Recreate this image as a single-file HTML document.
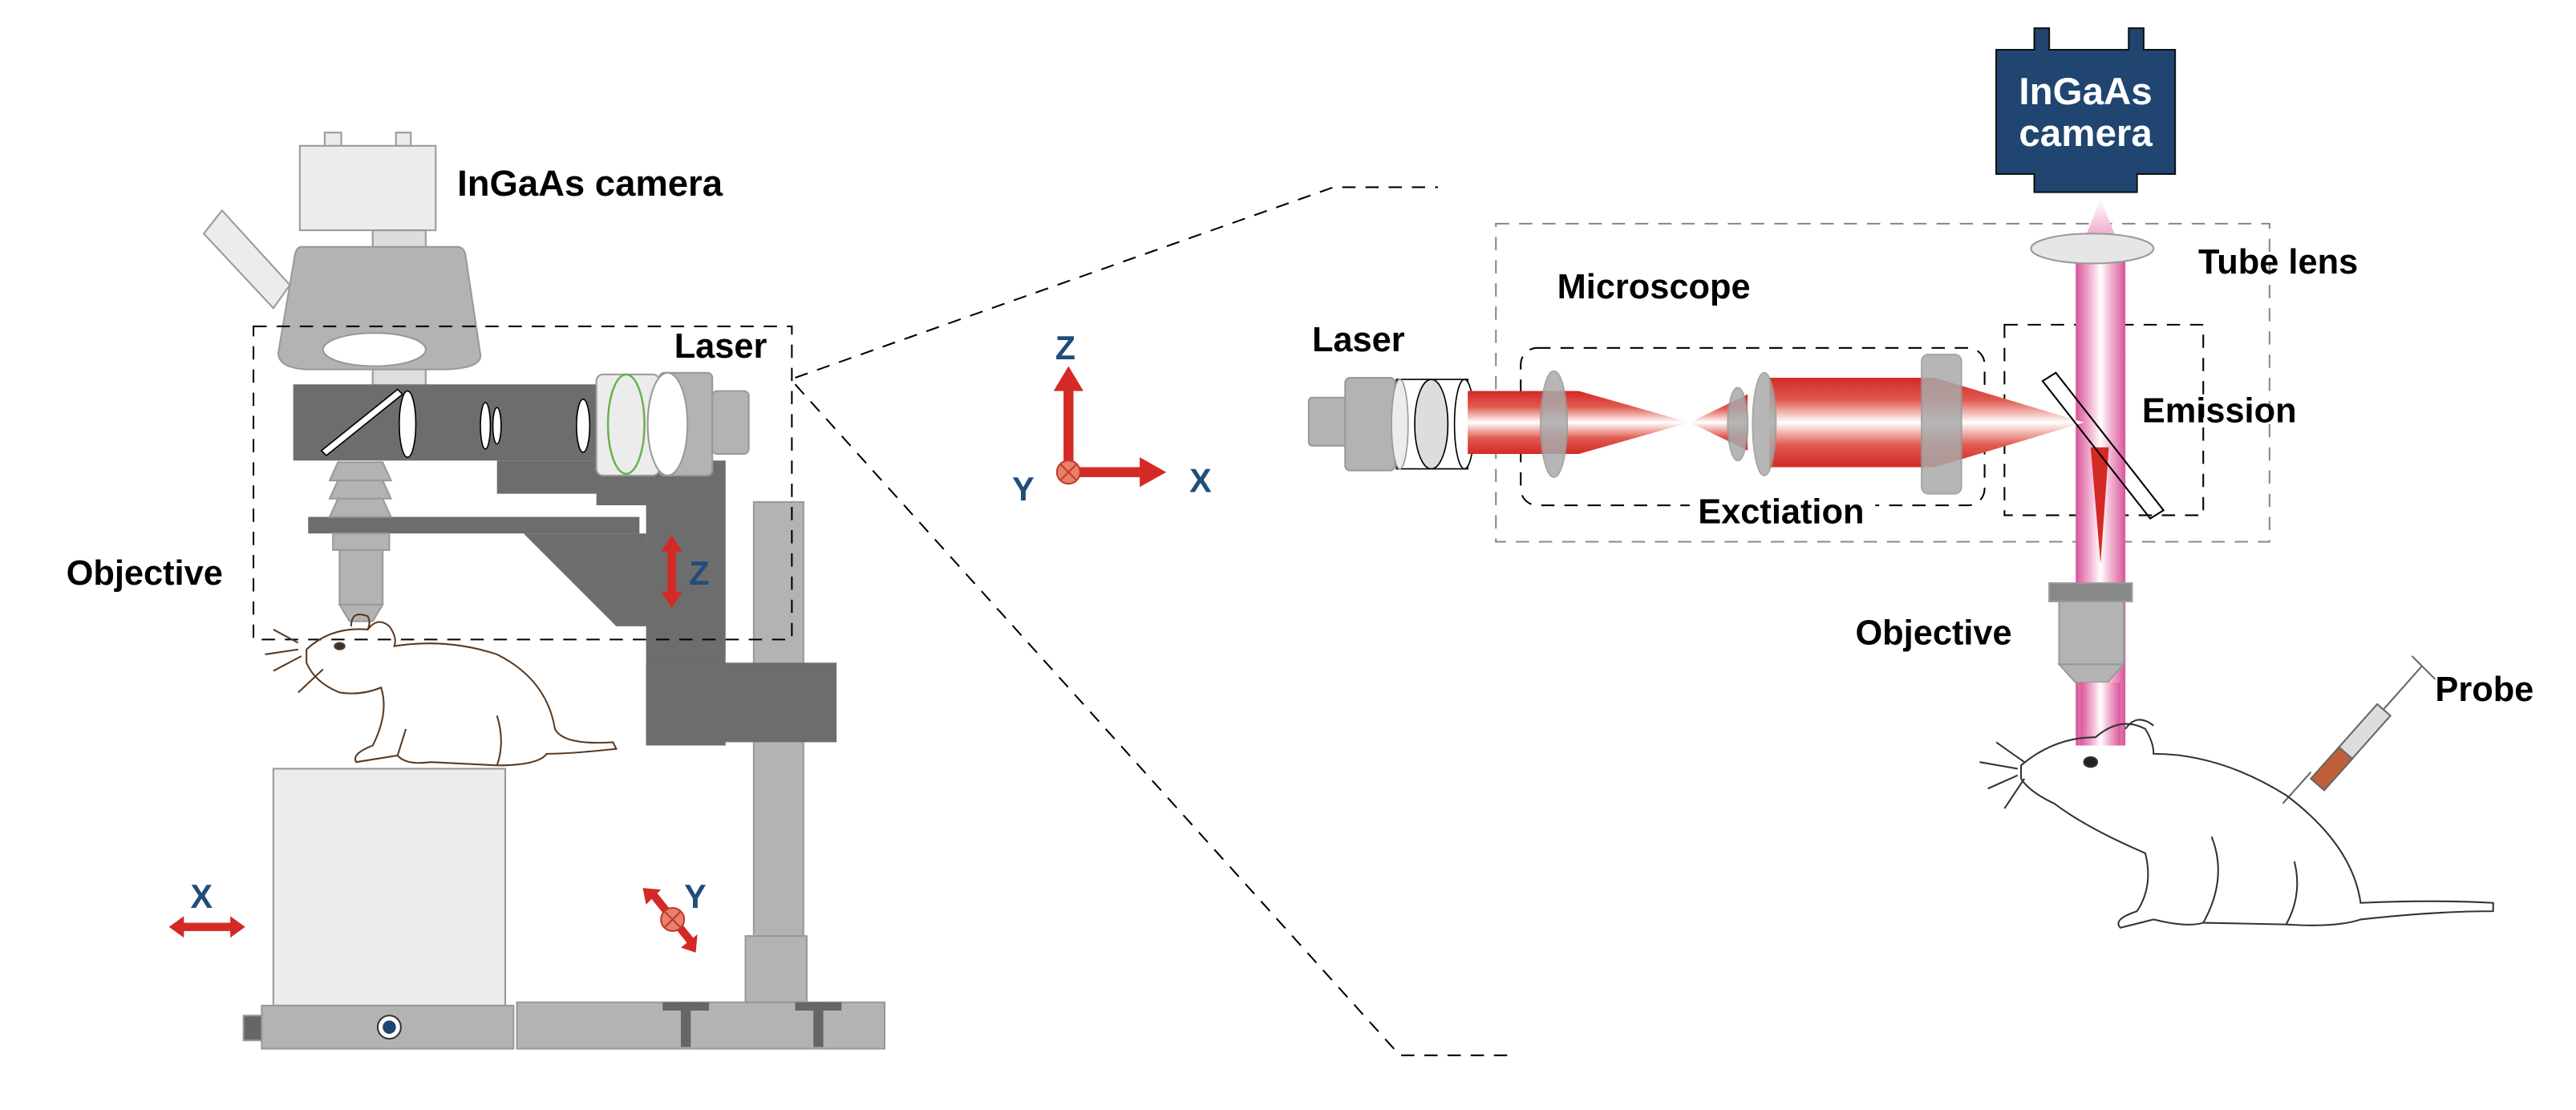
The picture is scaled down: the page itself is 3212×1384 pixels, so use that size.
<!DOCTYPE html>
<html><head><meta charset="utf-8"><style>
html,body{margin:0;padding:0;background:#fff;width:3212px;height:1384px;overflow:hidden}
svg{display:block}
text{font-family:"Liberation Sans Narrow","Liberation Sans",sans-serif;font-weight:bold}
</style></head><body>
<svg width="3212" height="1384" viewBox="0 0 1555 670" xmlns="http://www.w3.org/2000/svg">
<defs>
<linearGradient id="rv" x1="0" y1="0" x2="0" y2="1">
<stop offset="0" stop-color="#d32a25"/><stop offset="0.25" stop-color="#e05a50"/><stop offset="0.5" stop-color="#fff"/><stop offset="0.75" stop-color="#e05a50"/><stop offset="1" stop-color="#d32a25"/></linearGradient>
<linearGradient id="pk" x1="0" y1="0" x2="1" y2="0">
<stop offset="0" stop-color="#d9559a"/><stop offset="0.3" stop-color="#f2b5d3"/><stop offset="0.5" stop-color="#fff"/><stop offset="0.7" stop-color="#f2b5d3"/><stop offset="1" stop-color="#d9559a"/></linearGradient>
<linearGradient id="pkt" x1="0" y1="0" x2="0" y2="1"><stop offset="0" stop-color="#fff"/><stop offset="1" stop-color="#e98bbb"/></linearGradient>
</defs>

<!-- LEFT MICROSCOPE -->
<g stroke="#999" stroke-width="1">
<rect x="196" y="80" width="10" height="9" fill="#ececec"/>
<rect x="239" y="80" width="9" height="9" fill="#ececec"/>
<rect x="181" y="88" width="82" height="51" fill="#ececec"/>
<polygon points="123,141,134,127,175,172,165,186" fill="#ececec"/>
<rect x="225" y="139" width="32" height="12" fill="#ddd"/>
<path d="M182,149 L276,149 Q280,149 281,154 L290,214 Q291,222 270,223 L185,223 Q168,222 168,213 L178,154 Q179,149 182,149Z" fill="#b3b3b3"/>
<ellipse cx="226" cy="211" rx="31" ry="10" fill="#fff"/>
<rect x="225" y="223" width="32" height="10" fill="#ddd"/>
</g>
<!-- stand pillar (behind) -->
<g stroke="#999" fill="#b3b3b3">
<rect x="455" y="303" width="30" height="262"/>
<rect x="450" y="565" width="37" height="40"/>
</g>
<!-- dark frame -->
<g fill="#6d6d6d">
<rect x="177" y="232" width="250" height="46"/>
<polygon points="300,278 438,278 438,450 390,450 390,375 378,375 378,330 390,330 390,305 360,305 360,298 300,298"/>
<rect x="390" y="400" width="115" height="48"/>
<rect x="186" y="312" width="200" height="10"/>
<polygon points="316,322 390,322 390,378 372,378"/>
</g>
<g stroke="#999" fill="#b3b3b3">
<polygon points="204,279 231,279 236,290 199,290"/>
<polygon points="204,290 231,290 236,301 199,301"/>
<polygon points="204,301 231,301 236,312 199,312"/>
<rect x="201" y="322" width="34" height="10"/>
<rect x="205" y="332" width="26" height="33"/>
<polygon points="205,365 231,365 225,375 211,375"/>
</g>
<g stroke="#000" stroke-width="0.8" fill="#fff">
<polygon points="194,272 240,235 243,238 197,275"/>
<ellipse cx="246" cy="256" rx="5" ry="20"/>
<ellipse cx="293" cy="257" rx="3" ry="14"/>
<ellipse cx="300" cy="257" rx="2.5" ry="11"/>
<ellipse cx="352" cy="257" rx="4" ry="16"/>
</g>
<g stroke="#999">
<rect x="360" y="226" width="38" height="61" rx="4" fill="#ececec"/>
<ellipse cx="378" cy="256" rx="11" ry="30" fill="none" stroke="#6ab04c" stroke-width="1.2"/>
<rect x="398" y="225" width="32" height="62" rx="3" fill="#b3b3b3"/>
<ellipse cx="403" cy="256" rx="12" ry="31" fill="#fff"/>
<rect x="430" y="236" width="22" height="38" rx="3" fill="#b3b3b3"/>
</g>
<!-- base -->
<g stroke="#999" fill="#b3b3b3">
<rect x="312" y="605" width="222" height="28"/>
<rect x="165" y="464" width="140" height="143" fill="#ececec"/>
<rect x="158" y="607" width="152" height="26"/>
<rect x="147" y="613" width="11" height="15" fill="#666"/>
</g>
<g fill="#666"><rect x="400" y="605" width="28" height="5"/><rect x="411" y="605" width="6" height="27"/>
<rect x="480" y="605" width="28" height="5"/><rect x="491" y="605" width="6" height="27"/></g>
<circle cx="235" cy="620" r="7" fill="#fff" stroke="#333"/><circle cx="235" cy="620" r="4" fill="#1f4570"/>
<rect x="153" y="197" width="325" height="189" fill="none" stroke="#000" stroke-dasharray="8,6"/>
<g fill="#d32a25"><rect x="403" y="332" width="5" height="26"/><polygon points="399,333 412,333 405.5,323"/><polygon points="399,357 412,357 405.5,367"/></g>
<text x="416" y="353" font-size="20" fill="#1f4e79">Z</text>
<g fill="#d32a25"><rect x="110" y="557" width="30" height="5"/><polygon points="111,553 111,566 102,559.5"/><polygon points="139,553 139,566 148,559.5"/></g>
<text x="115" y="548" font-size="20" fill="#1f4e79">X</text>
<g fill="#d32a25"><polygon points="392,541 395,537 420,568 417,572"/><polygon points="388,536 399,537 390,546"/><polygon points="420,575 411,572 421,564"/></g>
<circle cx="406" cy="555" r="7" fill="#e8806a" stroke="#c0392b"/>
<path d="M401,550 L411,560 M411,550 L401,560" stroke="#c0392b"/>
<text x="413" y="548" font-size="20" fill="#1f4e79">Y</text>
<text x="276" y="118" font-size="22" fill="#000">InGaAs camera</text>
<text x="407" y="216" font-size="21" fill="#000">Laser</text>
<text x="40" y="353" font-size="21" fill="#000">Objective</text>

<g fill="none" stroke="#5a3a22" stroke-width="1">
<path d="M185,392 Q200,378 222,380 Q228,372 235,378 Q240,385 238,390 Q270,385 300,395 Q330,410 335,440 Q340,450 370,448 L372,452 Q345,455 330,455 Q325,462 300,462 L260,460 Q245,462 240,456 L215,460 Q212,455 225,450 Q235,430 230,415 Q218,420 205,418 Q190,412 185,400 Z"/>
<path d="M212,378 Q212,368 222,372 Q224,376 222,380"/>
<path d="M180,392 L160,395 M182,396 L165,405 M180,388 L165,380 M195,404 L180,418"/>
<ellipse cx="205" cy="390" rx="3" ry="2" fill="#333"/>
<path d="M240,456 L245,440 M300,462 Q305,448 300,432"/>
</g>

<g stroke="#000" stroke-dasharray="8,6" fill="none">
<path d="M480,228 L805,113 L868,113"/>
<path d="M480,232 L845,637 L910,637"/>
</g>

<g fill="#d32a25"><rect x="642" y="233" width="6" height="50"/><polygon points="636,236 654,236 645,221"/>
<rect x="645" y="282" width="45" height="6"/><polygon points="688,276 688,294 704,285"/></g>
<circle cx="645" cy="285" r="7" fill="#e8806a" stroke="#c0392b"/>
<path d="M640,280 L650,290 M650,280 L640,290" stroke="#c0392b"/>
<text x="637" y="217" font-size="20" fill="#1f4e79">Z</text>
<text x="611" y="302" font-size="20" fill="#1f4e79">Y</text>
<text x="718" y="297" font-size="20" fill="#1f4e79">X</text>

<rect x="903" y="135" width="467" height="192" fill="none" stroke="#888" stroke-dasharray="8,6"/>
<rect x="918" y="210" width="280" height="95" rx="10" fill="none" stroke="#000" stroke-dasharray="8,6"/>
<rect x="1210" y="196" width="120" height="115" fill="none" stroke="#000" stroke-dasharray="8,6"/>
<rect x="1253" y="150" width="30" height="300" fill="url(#pk)"/>
<polygon points="1256,150 1280,150 1268,120" fill="url(#pkt)"/>
<ellipse cx="1263" cy="150" rx="37" ry="9" fill="#e6e6e6" stroke="#999"/>
<g stroke="#999">
<rect x="790" y="240" width="24" height="29" rx="2" fill="#b3b3b3"/>
<rect x="812" y="228" width="30" height="56" rx="3" fill="#b3b3b3"/>
</g>
<g stroke="#000" stroke-width="0.8">
<rect x="843" y="229" width="43" height="54" fill="#fff"/>
<ellipse cx="845" cy="256" rx="5" ry="27" fill="#ececec" stroke="#999"/>
<ellipse cx="864" cy="256" rx="10" ry="27" fill="#ddd"/>
<ellipse cx="884" cy="256" rx="6" ry="27" fill="#fff"/>
</g>
<polygon points="886,236 953,236 1020,255 953,274 886,274" fill="url(#rv)"/>
<polygon points="1020,255 1055,238 1055,272" fill="url(#rv)"/>
<polygon points="1068,228 1168,228 1258,255 1168,282 1068,282" fill="url(#rv)"/>
<g fill="#aaa" stroke="#999" opacity="0.85">
<ellipse cx="938" cy="256" rx="8" ry="32"/>
<ellipse cx="1049" cy="256" rx="6" ry="22"/>
<ellipse cx="1065" cy="256" rx="7" ry="31"/>
<rect x="1160" y="214" width="24" height="84" rx="4"/>
</g>
<polygon points="1262,270 1273,270 1268,340" fill="#d32a25"/>
<polygon points="1233,230 1241,225 1306,308 1298,313" fill="none" stroke="#000"/>
<path d="M1228,17 L1237,17 L1237,30 L1285,30 L1285,17 L1294,17 L1294,30 L1313,30 L1313,105 L1290,105 L1290,116 L1228,116 L1228,105 L1205,105 L1205,30 L1228,30 Z" fill="#1f4570" stroke="#111"/>
<text x="1259" y="63" font-size="23" fill="#fff" text-anchor="middle">InGaAs</text>
<text x="1259" y="88" font-size="23" fill="#fff" text-anchor="middle">camera</text>
<g stroke="#999" fill="#b3b3b3">
<rect x="1237" y="352" width="50" height="11" fill="#888"/>
<rect x="1243" y="363" width="39" height="38"/>
<polygon points="1243,401 1282,401 1272,412 1253,412"/>
</g>
<rect x="1256" y="412" width="24" height="38" fill="url(#pk)"/>
<rect x="1020" y="298" width="112" height="24" fill="#fff"/>
<text x="792" y="212" font-size="21">Laser</text>
<text x="940" y="180" font-size="21">Microscope</text>
<text x="1327" y="165" font-size="21">Tube lens</text>
<text x="1293" y="255" font-size="21">Emission</text>
<text x="1025" y="316" font-size="21">Exctiation</text>
<text x="1120" y="389" font-size="21">Objective</text>
<text x="1470" y="423" font-size="21">Probe</text>
<g stroke="#666">
<line x1="1378" y1="485" x2="1395" y2="466"/>
<polygon points="1395,470 1435,425 1443,432 1403,477" fill="#ddd"/>
<polygon points="1395,470 1412,451 1420,458 1403,477" fill="#c0603a"/>
<line x1="1439" y1="428" x2="1462" y2="402"/>
<line x1="1456" y1="396" x2="1470" y2="410"/>
</g>
<g fill="none" stroke="#333" stroke-width="1">
<path d="M1220,462 Q1240,445 1265,445 Q1280,432 1295,440 Q1300,448 1300,455 Q1340,455 1380,480 Q1420,510 1425,545 Q1470,543 1505,545 L1505,550 Q1470,550 1425,555 Q1410,560 1380,558 L1330,557 Q1320,560 1300,555 L1280,560 Q1275,555 1290,550 Q1300,535 1295,515 Q1260,500 1240,485 Q1225,478 1220,470 Z"/>
<path d="M1283,440 Q1290,430 1300,438"/>
<path d="M1218,464 L1195,460 M1218,468 L1200,476 M1222,470 L1210,488 M1222,460 L1205,448"/>
<ellipse cx="1262" cy="460" rx="4" ry="3" fill="#222"/>
<path d="M1330,557 Q1345,530 1335,505 M1380,558 Q1390,540 1385,520"/>
</g>
</svg>
</body></html>
